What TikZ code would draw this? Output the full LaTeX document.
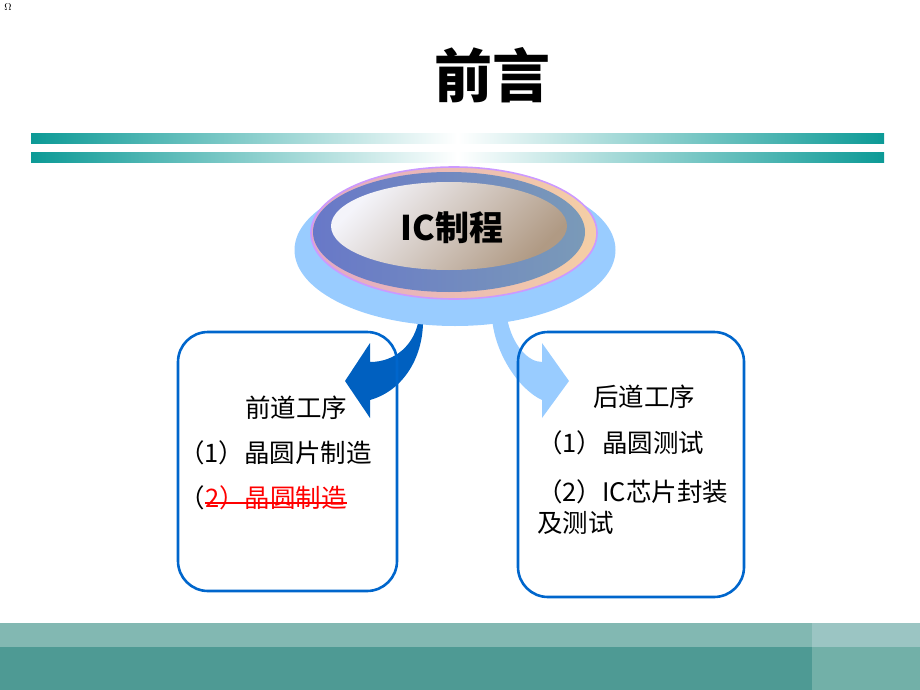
\documentclass[tikz,border=0pt]{standalone}
\usepackage{fontspec}
\newfontfamily\cjk{Noto Sans CJK SC}
\begin{document}
\begin{tikzpicture}[x=1pt,y=-1pt]
\definecolor{barteal}{RGB}{12,154,150}
\definecolor{bandlight}{RGB}{130,184,178}
\definecolor{banddark}{RGB}{78,154,148}
\definecolor{bandlightr}{RGB}{155,197,195}
\definecolor{banddarkr}{RGB}{114,176,168}
\definecolor{skyblue}{RGB}{153,204,255}
\definecolor{boxblue}{RGB}{0,102,204}
\definecolor{arrowdark}{RGB}{0,96,192}
\definecolor{ringviolet}{RGB}{204,153,255}
\definecolor{ringpink}{RGB}{226,168,196}
\definecolor{ringpeach}{RGB}{245,207,165}
\definecolor{slateL}{RGB}{104,120,200}
\definecolor{slateR}{RGB}{122,154,184}
\definecolor{innerTL}{RGB}{244,244,250}
\definecolor{innerBR}{RGB}{176,154,132}
\tikzset{
  bar/.style={left color=barteal, right color=barteal, middle color=white},
  boxshape/.style={draw=boxblue, line width=2.6pt, rounded corners=30pt, inner sep=0pt},
  txt/.style={font=\cjk\fontsize{25.5}{30}\selectfont, anchor=west, inner sep=0pt},
}
\useasboundingbox (0,0) rectangle (920,690);
% omega
\node[font=\fontsize{10}{10}\selectfont, inner sep=0pt] (omega) at (8,7) {$\Omega$};
% title
\node[font=\cjk\bfseries\fontsize{58}{64}\selectfont, inner sep=0pt] (title) at (492,75) {前言};
% gradient bars
\shade[bar] (31,133) rectangle (884,143);
\shade[bar] (31,152) rectangle (884,162);
% bottom bands
\fill[bandlight] (0,622.5) rectangle (812,646.5);
\fill[banddark] (0,646.5) rectangle (812,690);
\fill[bandlightr] (812,622.5) rectangle (920,646.5);
\fill[banddarkr] (812,646.5) rectangle (920,690);
% arrows
\fill[arrowdark] (423,318) .. controls (424,355) and (405,390) .. (370,400)
  -- (370,418) -- (345,381) -- (370,343) -- (370,362)
  .. controls (395,362) and (415,345) .. (419,318) -- cycle;
\fill[skyblue] (492,318) .. controls (495,355) and (520,390) .. (542,400)
  -- (542,418) -- (569,381) -- (542,343) -- (542,362)
  .. controls (528,362) and (512,345) .. (507,318) -- cycle;
% ellipses
\fill[skyblue] (455,250) ellipse [x radius=160.5pt, y radius=76pt];
\draw[ringviolet, line width=1.6pt, left color=ringpink, right color=ringpeach]
  (454,233) ellipse [x radius=143pt, y radius=66pt];
\shade[left color=slateL, right color=slateR] (449,232) ellipse [x radius=136pt, y radius=60pt];
\shade[top color=innerTL, bottom color=innerBR, shading angle=45] (449,226) ellipse [x radius=118pt, y radius=44pt];
\node[font=\cjk\bfseries\fontsize{34}{36}\selectfont, inner sep=0pt] (ic) at (452,228) {IC制程};
% boxes
\node[boxshape, minimum width=219pt, minimum height=259pt] (L) at (287.5,461.5) {};
\node[boxshape, minimum width=226pt, minimum height=265pt] (R) at (631,464.5) {};
% left texts
\node[txt] (l1) at (245,408) {前道工序};
\node[txt] (l2) at (179,453) {（1）晶圆片制造};
\node[txt] (l3a) at (179,498) {（};
\node[txt, text=red] (l3b) at (l3a.east) {2）晶圆制造};
\draw[red, line width=1.6pt] ([yshift=-5pt]l3b.west) -- ([yshift=-5pt]l3b.east);
% right texts
\node[txt] (r1) at (593,397) {后道工序};
\node[txt] (r2) at (537,443) {（1）晶圆测试};
\node[txt] (r3) at (537,492) {（2）IC芯片封装};
\node[txt] (r4) at (537,523) {及测试};
\end{tikzpicture}
\end{document}
